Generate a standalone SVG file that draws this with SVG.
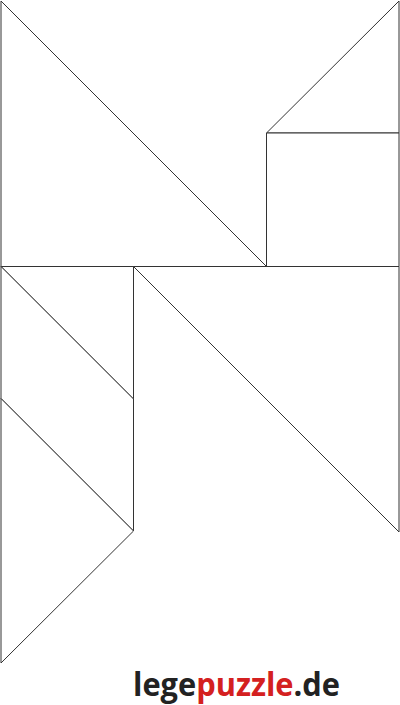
<svg xmlns="http://www.w3.org/2000/svg" width="400" height="705" viewBox="0 0 400 705">
<style>
.p{fill:#fff;stroke:#333;stroke-width:1;stroke-linejoin:miter}
.t{font-family:"Open Sans","Liberation Sans",sans-serif;font-weight:bold;font-size:33px}
</style>
<rect width="400" height="705" fill="#fff"/>
<g id="pieces">
<polygon id="big-triangle-top" class="p" points="1,1 1,266.5 266.5,266.5"/>
<polygon id="small-triangle-top" class="p" points="399,1 399,133 266.5,133"/>
<polygon id="square" class="p" points="266.5,133 399,133 399,266.5 266.5,266.5"/>
<polygon id="big-triangle-right" class="p" points="133.5,266.5 399,266.5 399,532"/>
<polygon id="small-triangle-left" class="p" points="1,266.5 133.5,266.5 133.5,399"/>
<polygon id="parallelogram" class="p" points="1,266.5 133.5,399 133.5,531 1,398.5"/>
<polygon id="medium-triangle" class="p" points="1,398.5 133.5,531 1,663"/>
</g>
<text id="logo" class="t" x="133" y="696" textLength="207" lengthAdjust="spacingAndGlyphs"><tspan fill="#222">lege</tspan><tspan fill="#d42020">puzzle</tspan><tspan fill="#222">.de</tspan></text>
</svg>
